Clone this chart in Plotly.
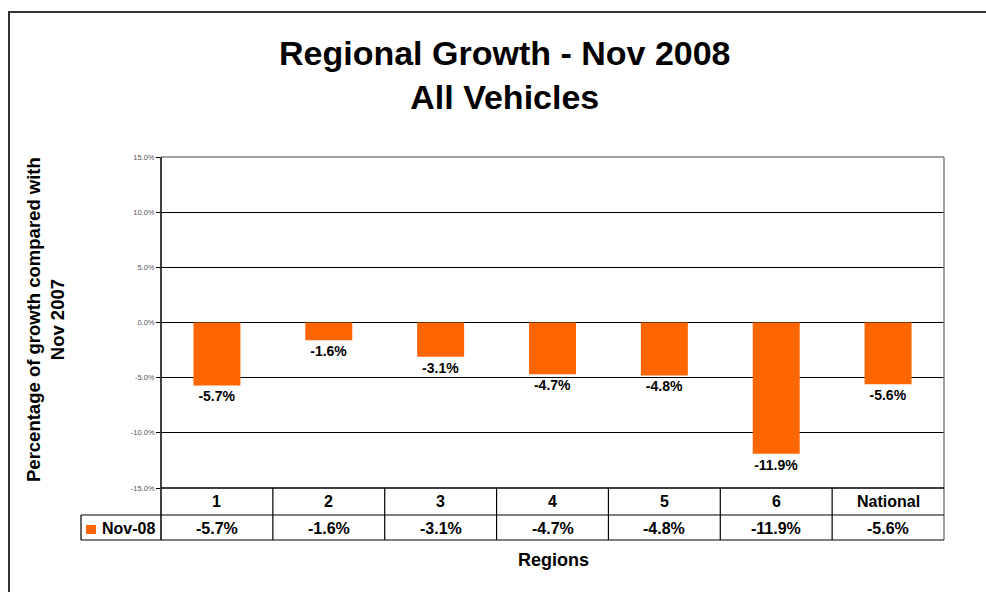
import plotly.graph_objects as go

categories = ["1", "2", "3", "4", "5", "6", "National"]
values = [-5.7, -1.6, -3.1, -4.7, -4.8, -11.9, -5.6]
series_name = "Nov-08"
tick_vals = [-15, -10, -5, 0, 5, 10, 15]
tick_text = ["-15.0%", "-10.0%", "-5.0%", "0.0%", "5.0%", "10.0%", "15.0%"]

W, H = 986, 592
L, R, T, B = 161, 944, 157, 488  # plot area in pixels
FONT = "Arial, Liberation Sans, sans-serif"
ORANGE = "#FF6600"


def px(x):
    return (x - L) / (R - L)


def py(y):
    return (B - y) / (B - T)


fig = go.Figure()
fig.add_trace(go.Bar(
    x=list(range(len(categories))), y=values, name=series_name,
    marker=dict(color=ORANGE, line=dict(width=0)),
    width=0.42,
    text=[f"<b>{v:.1f}%</b>" for v in values],
    textposition="outside",
    textfont=dict(family=FONT, size=14, color="#000"),
    cliponaxis=False,
))

shapes = []
# outer frame (top and left edges; the rest runs off the picture)
shapes.append(dict(type="line", xref="paper", yref="paper",
                   x0=px(8), x1=px(1000), y0=py(12), y1=py(12),
                   line=dict(color="#333", width=2), layer="below"))
shapes.append(dict(type="line", xref="paper", yref="paper",
                   x0=px(9), x1=px(9), y0=py(11), y1=py(610),
                   line=dict(color="#333", width=2), layer="below"))
# plot border (gray top/right)
shapes.append(dict(type="line", xref="paper", yref="paper", x0=0, x1=1, y0=1, y1=1,
                   line=dict(color="#808080", width=1.5)))
shapes.append(dict(type="line", xref="paper", yref="paper", x0=1, x1=1, y0=1, y1=py(540),
                   line=dict(color="#808080", width=1.5)))
# left axis line through table
shapes.append(dict(type="line", xref="paper", yref="paper", x0=0, x1=0, y0=1, y1=py(540),
                   line=dict(color="#000", width=1.5)))
# table horizontal lines
shapes.append(dict(type="line", xref="paper", yref="paper", x0=0, x1=1, y0=0, y1=0,
                   line=dict(color="#000", width=1.5)))
for yy in (515, 540):
    shapes.append(dict(type="line", xref="paper", yref="paper", x0=px(81), x1=1, y0=py(yy), y1=py(yy),
                       line=dict(color="#000", width=1.2)))
# legend cell left edge
shapes.append(dict(type="line", xref="paper", yref="paper", x0=px(81), x1=px(81), y0=py(515), y1=py(540),
                   line=dict(color="#000", width=1.2)))
# column dividers
for i in range(len(categories) - 1):
    shapes.append(dict(type="line", xref="x", yref="paper", x0=i + 0.5, x1=i + 0.5,
                       y0=0, y1=py(540), line=dict(color="#000", width=1.2)))
# legend key
shapes.append(dict(type="rect", xref="paper", yref="paper", x0=px(86), x1=px(96),
                   y0=py(534), y1=py(525), fillcolor=ORANGE, line=dict(width=0)))

annotations = []
for i, (c, v) in enumerate(zip(categories, values)):
    annotations.append(dict(x=i, xref="x", y=py(501.5), yref="paper", text=f"<b>{c}</b>",
                            showarrow=False, font=dict(family=FONT, size=16, color="#000"),
                            xanchor="center", yanchor="middle"))
    annotations.append(dict(x=i, xref="x", y=py(528), yref="paper", text=f"<b>{v:.1f}%</b>",
                            showarrow=False, font=dict(family=FONT, size=16, color="#000"),
                            xanchor="center", yanchor="middle"))
annotations.append(dict(x=px(100), xref="paper", y=py(528), yref="paper", text=f"<b>{series_name}</b>",
                        showarrow=False, font=dict(family=FONT, size=16, color="#000"),
                        xanchor="left", yanchor="middle"))
# title
annotations.append(dict(x=px(505), xref="paper", y=py(75), yref="paper",
                        text="<b>Regional Growth - Nov 2008<br>All Vehicles</b>",
                        showarrow=False, font=dict(family=FONT, size=34, color="#000"),
                        xanchor="center", yanchor="middle"))
# y title
annotations.append(dict(x=px(45), xref="paper", y=py(320), yref="paper",
                        text="<b>Percentage of growth compared with<br>Nov 2007</b>",
                        textangle=-90, showarrow=False,
                        font=dict(family=FONT, size=18.5, color="#000"),
                        xanchor="center", yanchor="middle"))
# x title
annotations.append(dict(x=px(553), xref="paper", y=py(560), yref="paper",
                        text="<b>Regions</b>", showarrow=False,
                        font=dict(family=FONT, size=18, color="#000"),
                        xanchor="center", yanchor="middle"))

fig.update_layout(
    width=W, height=H,
    margin=dict(l=L, r=W - R, t=T, b=H - B, pad=0),
    paper_bgcolor="white", plot_bgcolor="white",
    showlegend=False,
    shapes=shapes, annotations=annotations,
    xaxis=dict(showticklabels=False, showgrid=False, zeroline=False, showline=False,
               ticks="", range=[-0.5, len(categories) - 0.5], fixedrange=True),
    yaxis=dict(range=[-15, 15], tickvals=tick_vals, ticktext=tick_text,
               tickfont=dict(family=FONT, size=7.5, color="#555"),
               ticks="outside", ticklen=4, tickcolor="#000",
               showgrid=True, gridcolor="#000", gridwidth=1,
               zeroline=True, zerolinecolor="#000", zerolinewidth=1,
               showline=False, fixedrange=True),
    font=dict(family=FONT),
)

fig.write_html(
    "out.html",
    config={"displayModeBar": False},
    post_script="document.body.style.margin='0';document.body.style.overflow='hidden';",
)
